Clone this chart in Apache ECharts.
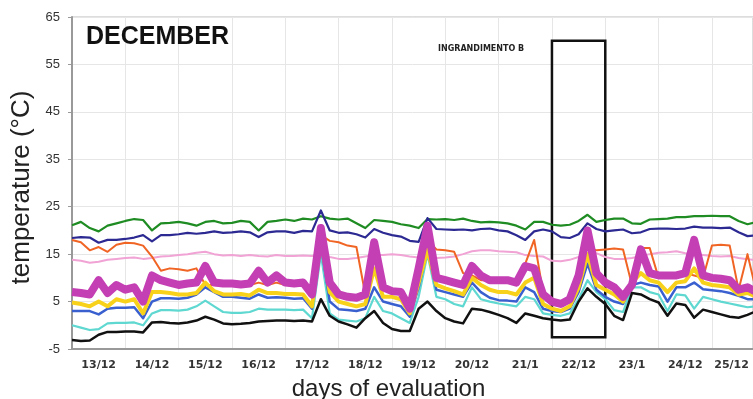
<!DOCTYPE html>
<html>
<head>
<meta charset="utf-8">
<script src="https://cdn.jsdelivr.net/npm/echarts@6/dist/echarts.min.js"></script>
<style>html,body{margin:0;padding:0;background:#fff}#c{width:753px;height:399px}</style>
</head>
<body>
<div id="c"></div>
<script>
// time step between readings: 1/6 day (4 hours), starting at 13/12 00:00
const STEP_DAYS = 1 / 6;
const dayLabels = ['13/12','14/12','15/12','16/12','17/12','18/12','19/12','20/12','21/1','22/12','23/1','24/12','25/12'];
const yTicks = [-5, 5, 15, 25, 35, 45, 55, 65];
const zoomBox = { from: 9, to: 10, top: 60, bottom: -2.5, label: 'INGRANDIMENTO B' };

const green = [21.1,21.8,20.5,19.8,21,21.5,22,22.4,22.2,20, 21.5,21.6,21.8,21.5,21,21.8,22,21.5,21.6,22, 21.8,20,21.8,22,22.3,22,22.5,22.3,23,22.5, 22.3,22.5,21.5,20.5,22.2,22,21.8,21.3,21,20.5, 22.4,22.3,22.4,22.2,22.5,22,21.7,21.8,21.7,21.5, 21,20.2,21.8,21.8,21.2,21,21.2,22,23.3,21.8, 22.2,22.5,22.5,21.5,21.4,22.3,22.4,22.5,22.8,22.8, 23,23,23.1,23,23,22,21.3,21.8];
const navy = [18.4,18.6,18.5,17.4,18,18,18.2,18.5,19,17.7, 19,19,19.2,19.5,19.3,19.5,19.8,19.5,19.6,19.8, 19.6,18.6,19.6,19.8,19.8,19.5,19.9,19.8,24.2,20, 19.5,19.6,19.2,18.5,20.3,19.5,19,18.7,17.8,17.6, 22.6,20.3,20.2,20.1,20.2,20,20.3,20.4,20,19.8, 19,18,19.8,20.2,19.8,18.6,18.4,19.2,21.5,20.3, 19.8,20,20.2,19.4,19.6,20.3,20.4,20.4,20.3,20.4, 20.8,20.6,20.6,20.5,20.6,19.6,18.8,19];
const pink = [13.8,13.6,13.2,13.4,13.8,14,14.2,14.3,14,14.2, 14.5,14.6,14.8,15,15.3,15.5,15,14.7,14.8,14.6, 14.8,14.6,14.5,14.8,14.6,14.6,14.7,14.6,15,14.4, 14,14,14.2,14.5,14.8,14.8,15,14.8,14.5,14.3, 14.4,14.2,14.3,14.5,15,15.6,15.8,15.8,15.6,15.5, 15.4,14.8,14.6,14.5,13.6,13.5,13.8,14.4,14.8,15.2, 14.4,14,14,14.2,14.6,15,15.3,15.4,15.6,15.2, 15,14.8,14.6,14.5,14.6,14.2,13.9,13.8];
const orange = [18,17.5,15.8,16.5,15.5,17,17.4,17.3,16.8,14.5, 11.5,12,11.8,11.5,12,8.5,8.5,8.5,8.5,8.5, 8.5,9,8.5,9,8.5,8.5,8.5,6,19,17.8, 17.5,16.8,16.5,6.5,17.5,8,7.2,7,3.5,11, 18,16,15.8,15.5,11,10.5,9.5,9.5,9.5,9.5, 9,13,18,7,5,4.5,5.5,10.5,16.5,15.8, 16,16.2,16,8.5,16.3,16.3,10,10.5,10,11, 10.5,10,16.8,17,16.8,7.5,15,7];
const magenta = [7,6.8,6.5,9.5,6.8,8.5,7.5,8,5,10.5, 9.5,9,8.5,8.8,9,12.5,9,8.8,8.8,8.6, 8.8,11.5,9,10.5,9,8.8,9,6.5,20.5,9, 6.5,6,5.8,6.5,17.5,8,7.2,7,3.5,12, 21,10,9.5,9,8.5,12.5,10.5,9.5,9.5,9.5, 9,12.5,12,6.5,5,4.5,5.5,10.5,20,11, 9,8,6,8.5,16,11,10.5,10.5,10.5,11, 18,10.5,10,9.8,9.5,7.5,8,7];
const yellow = [4.8,4.5,4,5,4,5.5,5,5.5,2.5,7, 7,6.8,6.5,6.5,6.8,9,7.2,6.5,6.5,6.6, 6.3,7.5,6.8,6.8,6.6,6.6,6.5,4,18,7, 5,4.5,4,4.5,12,6,6,5.5,2.5,9, 16,8.5,7.8,7.2,6.5,10,8.5,7.5,7,7, 6.5,9,10,4.5,3.5,3,4,8,15,8.5, 7.5,6.5,5,9,11,9.5,9,7,9,9.3, 12,9,8.5,8.3,8,6.5,6.8,6];
const blue = [3,3,3,2.3,3.5,3.7,3.7,3.8,1.5,5, 5.7,5.7,5.6,5.8,6.5,8,7,6,6,5.8, 5.6,6.5,5.8,5.9,5.8,5.6,5.7,3.5,17,5, 3.4,3.2,3,3.5,8,5,4.5,4,1.8,8, 16,7.5,7,6.5,6,9,7,5.8,5.3,5.2, 5,8,7,3.5,3,2.8,3.5,7,13,7.5, 6,5,4.5,8.5,9,8.5,8.2,5,8,8, 9,7.6,7.4,7.2,6.8,6.2,5.5,5.5];
const cyan = [0,-0.5,-1,-0.8,0.4,0.5,0.5,0.6,0,2.5, 3.2,3.2,3.1,3.3,4,5.2,4,2.8,2.6,2.6, 2.8,3.5,3.3,3.3,3.3,3.2,3.3,1.5,15,2.5, 1.2,1,0.8,1.5,6,3,2.5,1.5,0.5,6, 15,6,5.5,4.5,4,8,5.5,5,4.6,4.3, 4,6,5.5,2.5,2.2,2,2.5,5.5,9.5,7, 5.5,3.2,2.8,8,8,7,6.5,3,6.5,6.3, 3.5,6,5.5,5,4.6,4.2,3.8,4];
const black = [-3.1,-3.3,-3.2,-2,-1.4,-1.4,-1.3,-1.3,-1.5,0.6, 0.7,0.5,0.4,0.6,1,1.8,1.2,0.4,0.2,0.3, 0.5,0.8,0.9,1,1,0.9,1,0.8,5.5,2, 0.8,0.2,-0.5,1.5,3,0.5,-0.8,-1.2,-1.2,3.5, 5,3,1.5,0.8,0.4,3.5,3.3,2.8,2.2,1.5, 0.5,2.5,2,1.5,1.2,1,1.2,5,7.8,6, 4.5,2,1.1,6.8,6.5,5.5,4.8,2,4.6,4.3, 1.6,3.3,2.8,2.3,1.8,1.6,2.2,3];

const seriesDefs = [
  { name: 'pink', data: pink, color: '#f0a3d4', width: 2 },
  { name: 'orange', data: orange, color: '#f06424', width: 2 },
  { name: 'green', data: green, color: '#1e8c22', width: 2.2 },
  { name: 'navy', data: navy, color: '#2c2a92', width: 2.2 },
  { name: 'cyan', data: cyan, color: '#5ed8d0', width: 2.2 },
  { name: 'blue', data: blue, color: '#3a60d0', width: 2.5 },
  { name: 'yellow', data: yellow, color: '#f8d21a', width: 4 },
  { name: 'magenta', data: magenta, color: '#c43eb4', width: 8 },
  { name: 'black', data: black, color: '#111111', width: 2.5 }
];

const toPairs = arr => arr.map((v, i) => [i * STEP_DAYS, v]);

const series = seriesDefs.map(s => ({
  name: s.name,
  type: 'line',
  xAxisIndex: 0,
  yAxisIndex: 0,
  data: toPairs(s.data),
  symbol: 'none',
  lineStyle: { color: s.color, width: s.width, join: 'round' },
  itemStyle: { color: s.color },
  animation: false,
  silent: true
}));

series[series.length - 1].markArea = {
  silent: true,
  itemStyle: { color: 'rgba(0,0,0,0)', borderColor: '#111', borderWidth: 2.5 },
  data: [[{ coord: [zoomBox.from, zoomBox.top] }, { coord: [zoomBox.to, zoomBox.bottom] }]]
};

const X_MAX = 12.77;
const labelStyle = { fontSize: 11, fontWeight: 'bold', color: '#333', fontFamily: 'DejaVu Sans' };
const chart = echarts.init(document.getElementById('c'), null, { renderer: 'canvas' });
chart.setOption({
  backgroundColor: '#fff',
  animation: false,
  title: [
    { text: 'DECEMBER', left: 86, top: 25, padding: 0,
      textStyle: { fontSize: 25, fontWeight: 'bold', color: '#111', fontFamily: 'Liberation Sans' } },
    { text: zoomBox.label, left: 438, top: 45, padding: 0,
      textStyle: { fontSize: 8, fontWeight: 'bold', color: '#222', fontFamily: 'DejaVu Sans' } }
  ],
  grid: { left: 72, right: 0, top: 17, bottom: 50, show: true, borderColor: '#bbb', borderWidth: 1,
          outerBoundsMode: 'none', containLabel: false },
  xAxis: [
    { type: 'value', min: 0, max: X_MAX, interval: 1, position: 'bottom',
      axisLine: { show: true, onZero: false, lineStyle: { color: '#999', width: 2 } },
      axisTick: { show: false }, axisLabel: { show: false },
      splitLine: { show: true, lineStyle: { color: '#e6e6e6', width: 1 } } },
    { type: 'value', min: 0, max: X_MAX, interval: 0.5, position: 'bottom',
      axisLine: { show: false, onZero: false }, axisTick: { show: false },
      splitLine: { show: false },
      name: 'days of evaluation', nameLocation: 'middle', nameGap: 28,
      nameTextStyle: { fontSize: 24, color: '#222', fontFamily: 'Liberation Sans', padding: [0, 48, 0, 0] },
      axisLabel: Object.assign({ margin: 11, showMinLabel: true, showMaxLabel: true, hideOverlap: false,
        rich: { last: Object.assign({ padding: [0, 14, 0, 0] }, labelStyle) },
        formatter: v => {
          const k = Math.floor(v);
          if (!(Math.abs(v - (k + 0.5)) < 1e-6 && k >= 0 && k < dayLabels.length)) return '';
          return k === dayLabels.length - 1 ? '{last|' + dayLabels[k] + '}' : dayLabels[k];
        } }, labelStyle) }
  ],
  yAxis: {
    type: 'value', min: yTicks[0], max: yTicks[yTicks.length - 1], interval: yTicks[1] - yTicks[0],
    name: 'temperature (°C)', nameLocation: 'middle', nameGap: 34,
    nameTextStyle: { fontSize: 26, color: '#222', fontFamily: 'Liberation Sans', padding: [0, 9, 0, 0] },
    axisLine: { show: true, lineStyle: { color: '#999', width: 2 } },
    axisTick: { show: true, length: 4, lineStyle: { color: '#999' } },
    axisLabel: { fontSize: 13, color: '#333', margin: 12, fontFamily: 'Liberation Sans' },
    splitLine: { show: true, lineStyle: { color: '#e6e6e6', width: 1 } }
  },
  series: series
});
</script>
</body>
</html>
